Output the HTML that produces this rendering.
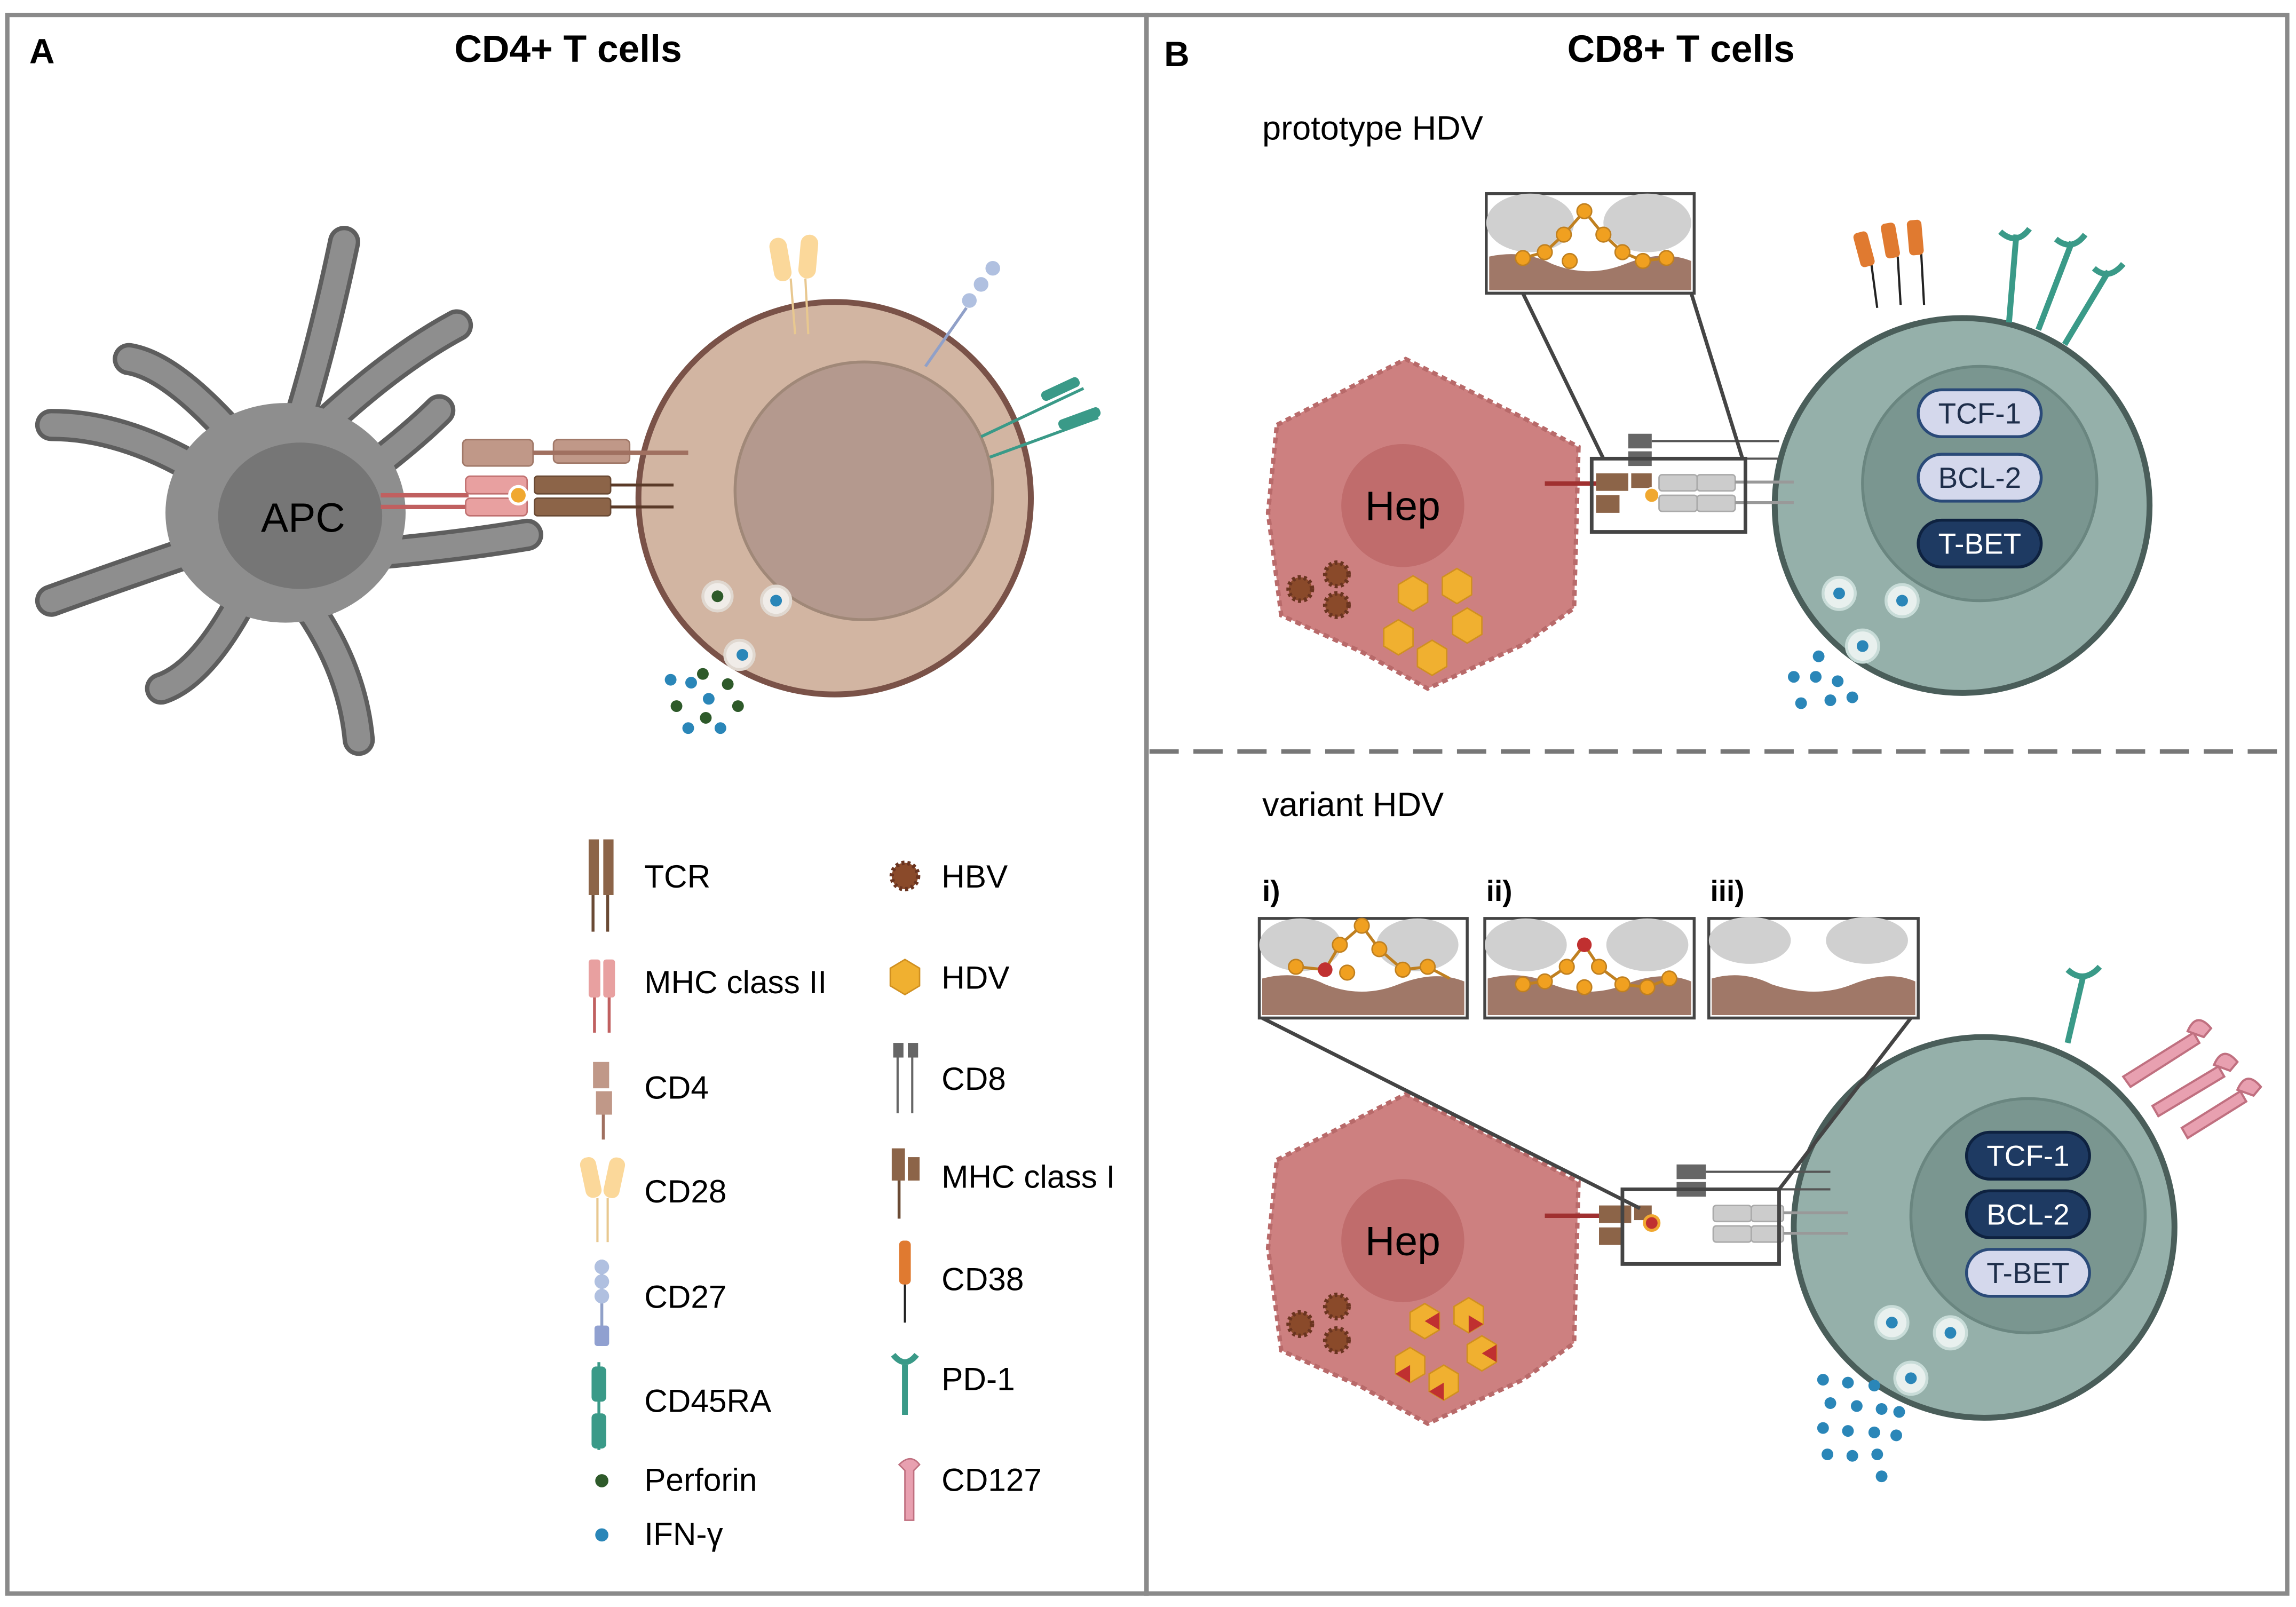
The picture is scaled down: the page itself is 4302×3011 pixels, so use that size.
<!DOCTYPE html>
<html><head><meta charset="utf-8"><style>
html,body{margin:0;padding:0;background:#fff}
svg{display:block}
text{font-family:"Liberation Sans",sans-serif}
</style></head><body>
<svg width="4302" height="3011" viewBox="0 0 1568 1097" xmlns="http://www.w3.org/2000/svg">
<rect width="1568" height="1097" fill="#fff"/>
<!-- panels -->
<rect x="5" y="10" width="778" height="1078" fill="none" stroke="#8a8a8a" stroke-width="3"/>
<rect x="783" y="10" width="779" height="1078" fill="none" stroke="#8a8a8a" stroke-width="3"/>
<line x1="785" y1="513" x2="1560" y2="513" stroke="#777" stroke-width="3" stroke-dasharray="20,10"/>
<text x="20" y="43" font-size="24" font-weight="bold">A</text>
<text x="388" y="42" font-size="26" font-weight="bold" text-anchor="middle">CD4+ T cells</text>
<text x="795" y="45" font-size="24" font-weight="bold">B</text>
<text x="1148" y="42" font-size="26" font-weight="bold" text-anchor="middle">CD8+ T cells</text>
<text x="862" y="95" font-size="23">prototype HDV</text>
<text x="862" y="557" font-size="23">variant HDV</text>

<!-- APC -->
<g stroke-linecap="round" fill="none">
<g stroke="#5e5e5e" stroke-width="22">
<path d="M190 330 Q215 260 235 165"/><path d="M200 310 Q260 250 312 222"/><path d="M170 310 Q120 250 88 245"/>
<path d="M150 330 Q90 290 35 290"/><path d="M150 370 Q90 390 35 410"/><path d="M170 400 Q140 460 110 470"/>
<path d="M200 400 Q240 450 245 505"/><path d="M230 380 Q300 375 360 365"/><path d="M240 330 Q280 300 300 280"/>
</g>
<g stroke="#8e8e8e" stroke-width="16">
<path d="M190 330 Q215 260 235 165"/><path d="M200 310 Q260 250 312 222"/><path d="M170 310 Q120 250 88 245"/>
<path d="M150 330 Q90 290 35 290"/><path d="M150 370 Q90 390 35 410"/><path d="M170 400 Q140 460 110 470"/>
<path d="M200 400 Q240 450 245 505"/><path d="M230 380 Q300 375 360 365"/><path d="M240 330 Q280 300 300 280"/>
</g>
</g>
<ellipse cx="195" cy="350" rx="82" ry="75" fill="#8e8e8e"/>
<ellipse cx="205" cy="352" rx="56" ry="50" fill="#767676"/>
<text x="207" y="363" font-size="28" text-anchor="middle">APC</text>

<!-- T cell A -->
<circle cx="570" cy="340" r="134" fill="#d2b5a2" stroke="#7a5248" stroke-width="4"/>
<circle cx="590" cy="335" r="88" fill="#b4998e" stroke="#a08878" stroke-width="2"/>
<line x1="260" y1="338" x2="320" y2="338" stroke="#c06060" stroke-width="3"/>
<line x1="260" y1="346" x2="320" y2="346" stroke="#c06060" stroke-width="3"/>
<rect x="316" y="300" width="48" height="18" rx="3" fill="#c09888" stroke="#a07868"/>
<rect x="378" y="300" width="52" height="16" rx="3" fill="#c09888" stroke="#a07868"/>
<line x1="364" y1="309" x2="470" y2="309" stroke="#a07060" stroke-width="3"/>
<rect x="318" y="325" width="42" height="12" rx="3" fill="#e8a0a0" stroke="#c07070"/>
<rect x="318" y="340" width="42" height="12" rx="3" fill="#e8a0a0" stroke="#c07070"/>
<circle cx="354" cy="338" r="6" fill="#f0a830" stroke="#fff" stroke-width="2"/>
<rect x="365" y="325" width="52" height="12" rx="2" fill="#8c6448" stroke="#6a4a34"/>
<rect x="365" y="340" width="52" height="12" rx="2" fill="#8c6448" stroke="#6a4a34"/>
<line x1="417" y1="331" x2="460" y2="331" stroke="#5a3a28" stroke-width="2"/>
<line x1="417" y1="346" x2="460" y2="346" stroke="#5a3a28" stroke-width="2"/>
<rect x="527" y="162" width="12" height="30" rx="6" fill="#fbd89a" transform="rotate(-10 533 177)"/>
<rect x="546" y="160" width="12" height="30" rx="6" fill="#fbd89a" transform="rotate(5 552 175)"/>
<line x1="540" y1="190" x2="543" y2="228" stroke="#e8c890" stroke-width="1.5"/>
<line x1="550" y1="190" x2="552" y2="228" stroke="#e8c890" stroke-width="1.5"/>
<line x1="660" y1="210" x2="632" y2="250" stroke="#90a0c8" stroke-width="2"/>
<circle cx="662" cy="205" r="5" fill="#b0c0e0"/><circle cx="670" cy="194" r="5" fill="#b0c0e0"/><circle cx="678" cy="183" r="5" fill="#b0c0e0"/>
<line x1="670" y1="298" x2="740" y2="265" stroke="#3a9a88" stroke-width="2"/>
<line x1="676" y1="312" x2="750" y2="285" stroke="#3a9a88" stroke-width="2"/>
<g fill="#3a9a88"><rect x="710" y="262" width="28" height="7" rx="3" transform="rotate(-25 724 265)"/><rect x="722" y="282" width="30" height="7" rx="3" transform="rotate(-20 737 285)"/></g>
<g fill="#f0ece8" stroke="#e0d8d0" stroke-width="2">
<circle cx="490" cy="407" r="10"/><circle cx="530" cy="410" r="10"/><circle cx="505" cy="447" r="10"/></g>
<circle cx="490" cy="407" r="4" fill="#2e5a2a"/><circle cx="530" cy="410" r="4" fill="#2a86b8"/><circle cx="507" cy="447" r="4" fill="#2a86b8"/>
<g fill="#2a86b8"><circle cx="458" cy="464" r="4"/><circle cx="472" cy="466" r="4"/><circle cx="484" cy="477" r="4"/><circle cx="470" cy="497" r="4"/><circle cx="492" cy="497" r="4"/></g>
<g fill="#2e5a2a"><circle cx="480" cy="460" r="4"/><circle cx="497" cy="467" r="4"/><circle cx="462" cy="482" r="4"/><circle cx="504" cy="482" r="4"/><circle cx="482" cy="490" r="4"/></g>

<!-- legend -->
<g font-size="22">
<text x="440" y="606">TCR</text><text x="440" y="678">MHC class II</text><text x="440" y="750">CD4</text>
<text x="440" y="821">CD28</text><text x="440" y="893">CD27</text><text x="440" y="964">CD45RA</text>
<text x="440" y="1018">Perforin</text><text x="440" y="1055">IFN-γ</text>
<text x="643" y="606">HBV</text><text x="643" y="675">HDV</text><text x="643" y="744">CD8</text>
<text x="643" y="811">MHC class I</text><text x="643" y="881">CD38</text><text x="643" y="949">PD-1</text><text x="643" y="1018">CD127</text>
</g>
<g>
<rect x="402" y="573" width="7" height="38" fill="#8c6448"/><rect x="412" y="573" width="7" height="38" fill="#8c6448"/>
<line x1="405" y1="611" x2="405" y2="636" stroke="#6a4a34" stroke-width="2"/><line x1="415" y1="611" x2="415" y2="636" stroke="#6a4a34" stroke-width="2"/>
<rect x="402" y="655" width="8" height="26" rx="2" fill="#e8a0a0"/><rect x="412" y="655" width="8" height="26" rx="2" fill="#e8a0a0"/>
<line x1="406" y1="681" x2="406" y2="705" stroke="#c06060" stroke-width="2"/><line x1="416" y1="681" x2="416" y2="705" stroke="#c06060" stroke-width="2"/>
<rect x="405" y="725" width="11" height="18" fill="#c09888"/><rect x="407" y="745" width="11" height="16" fill="#c09888"/>
<line x1="412" y1="761" x2="412" y2="778" stroke="#a07060" stroke-width="2"/>
<rect x="398" y="790" width="11" height="28" rx="5" fill="#fbd89a" transform="rotate(-12 403 804)"/><rect x="414" y="790" width="11" height="28" rx="5" fill="#fbd89a" transform="rotate(12 419 804)"/>
<line x1="408" y1="818" x2="408" y2="848" stroke="#e8c890" stroke-width="1.5"/><line x1="415" y1="818" x2="415" y2="848" stroke="#e8c890" stroke-width="1.5"/>
<line x1="411" y1="860" x2="411" y2="915" stroke="#90a0c8" stroke-width="2"/>
<circle cx="411" cy="865" r="5" fill="#b0c0e0"/><circle cx="411" cy="875" r="5" fill="#b0c0e0"/><circle cx="411" cy="885" r="5" fill="#b0c0e0"/><rect x="406" y="905" width="10" height="14" rx="2" fill="#90a0d0"/>
<line x1="409" y1="930" x2="409" y2="990" stroke="#3a9a88" stroke-width="2"/>
<rect x="404" y="933" width="10" height="24" rx="3" fill="#3a9a88"/><rect x="404" y="965" width="10" height="24" rx="3" fill="#3a9a88"/>
<circle cx="411" cy="1011" r="4.5" fill="#2e5a2a"/><circle cx="411" cy="1048" r="4.5" fill="#2a86b8"/>
<circle cx="618" cy="598" r="9" fill="#8a4a2a" stroke="#6a3420" stroke-width="3" stroke-dasharray="2,2"/>
<polygon points="618,655 628,661 628,673 618,679 608,673 608,661" fill="#f0b030" stroke="#d09020"/>
<rect x="610" y="712" width="7" height="10" fill="#666"/><rect x="620" y="712" width="7" height="10" fill="#666"/>
<line x1="613" y1="722" x2="613" y2="760" stroke="#666" stroke-width="1.5"/><line x1="623" y1="722" x2="623" y2="760" stroke="#666" stroke-width="1.5"/>
<rect x="609" y="784" width="9" height="22" fill="#8c6448"/><rect x="620" y="790" width="8" height="16" fill="#8c6448"/>
<line x1="614" y1="806" x2="614" y2="832" stroke="#6a4a34" stroke-width="2"/>
<rect x="614" y="847" width="8" height="30" rx="3" fill="#e07a30"/><line x1="618" y1="877" x2="618" y2="903" stroke="#222" stroke-width="1.5"/>
<path d="M610 925 Q618 935 626 925" stroke="#3a9a88" stroke-width="4" fill="none"/><line x1="618" y1="932" x2="618" y2="966" stroke="#3a9a88" stroke-width="4"/>
<path d="M614 1000 Q622 992 628 1000 L624 1004 L624 1038 L618 1038 L618 1004 Z" fill="#e8a0b0" stroke="#c07080"/>
</g>

<!-- ============ B top ============ -->
<path d="M872 290 L960 245 L1040 285 L1078 305 L1075 415 L1040 440 L975 470 L930 445 L875 420 L866 350 Z" fill="#cd8080" stroke="#b86a6a" stroke-width="3" stroke-dasharray="4,3"/>
<circle cx="958" cy="345" r="42" fill="#c06c6c"/>
<text x="958" y="355" font-size="28" text-anchor="middle">Hep</text>
<g fill="#8a4a2a" stroke="#6a3420" stroke-width="3" stroke-dasharray="2,2">
<circle cx="888" cy="402" r="8"/><circle cx="913" cy="392" r="8"/><circle cx="913" cy="413" r="8"/></g>
<g fill="#f0b030" stroke="#d09020">
<polygon points="965,393 975,399 975,411 965,417 955,411 955,399"/><polygon points="995,388 1005,394 1005,406 995,412 985,406 985,394"/>
<polygon points="955,423 965,429 965,441 955,447 945,441 945,429"/><polygon points="1002,415 1012,421 1012,433 1002,439 992,433 992,421"/>
<polygon points="978,437 988,443 988,455 978,461 968,455 968,443"/></g>
<circle cx="1340" cy="345" r="128" fill="#95b0aa" stroke="#4a5e5a" stroke-width="4"/>
<circle cx="1352" cy="330" r="80" fill="#7a9690" stroke="#6a8680" stroke-width="2"/>
<g stroke="#222" stroke-width="1.5"><line x1="1282" y1="210" x2="1278" y2="180"/><line x1="1298" y1="208" x2="1296" y2="175"/><line x1="1314" y1="208" x2="1312" y2="172"/></g>
<g fill="#e07a30"><rect x="1268" y="158" width="10" height="24" rx="3" transform="rotate(-15 1273 170)"/><rect x="1286" y="152" width="10" height="24" rx="3" transform="rotate(-10 1291 164)"/><rect x="1303" y="150" width="10" height="24" rx="3" transform="rotate(-5 1308 162)"/></g>
<g stroke="#3a9a88" stroke-width="4" fill="none">
<line x1="1372" y1="220" x2="1377" y2="160"/><line x1="1392" y1="225" x2="1415" y2="165"/><line x1="1410" y1="235" x2="1440" y2="185"/>
<path d="M1366 158 Q1377 168 1386 156"/><path d="M1404 163 Q1415 172 1424 160"/><path d="M1430 183 Q1440 192 1450 180"/></g>
<rect x="1310" y="266" width="84" height="32" rx="16" fill="#d4d8ec" stroke="#2a4a78" stroke-width="2"/>
<rect x="1310" y="310" width="84" height="32" rx="16" fill="#d4d8ec" stroke="#2a4a78" stroke-width="2"/>
<rect x="1310" y="355" width="84" height="32" rx="16" fill="#1e3a62" stroke="#0e2240" stroke-width="2"/>
<g font-size="20" text-anchor="middle"><text x="1352" y="289" fill="#1e2e4a">TCF-1</text><text x="1352" y="333" fill="#1e2e4a">BCL-2</text><text x="1352" y="378" fill="#fff">T-BET</text></g>
<line x1="1055" y1="330" x2="1090" y2="330" stroke="#a03030" stroke-width="3"/>
<rect x="1090" y="323" width="22" height="12" fill="#8c6448"/><rect x="1090" y="338" width="16" height="12" fill="#8c6448"/><rect x="1114" y="323" width="14" height="10" fill="#8c6448"/>
<circle cx="1128" cy="338" r="5" fill="#f0a830" stroke="#fff"/>
<rect x="1133" y="324" width="26" height="11" rx="2" fill="#ccc" stroke="#aaa"/><rect x="1159" y="324" width="26" height="11" rx="2" fill="#ccc" stroke="#aaa"/>
<rect x="1133" y="338" width="26" height="11" rx="2" fill="#ccc" stroke="#aaa"/><rect x="1159" y="338" width="26" height="11" rx="2" fill="#ccc" stroke="#aaa"/>
<line x1="1185" y1="329" x2="1225" y2="329" stroke="#999" stroke-width="2"/><line x1="1185" y1="343" x2="1225" y2="343" stroke="#999" stroke-width="2"/>
<rect x="1112" y="296" width="16" height="10" fill="#666"/><rect x="1112" y="308" width="16" height="10" fill="#666"/>
<line x1="1128" y1="301" x2="1215" y2="301" stroke="#555" stroke-width="1.5"/><line x1="1128" y1="313" x2="1215" y2="313" stroke="#555" stroke-width="1.5"/>
<rect x="1087" y="313" width="105" height="50" fill="none" stroke="#444" stroke-width="2.5"/>
<line x1="1040" y1="200" x2="1095" y2="313" stroke="#444" stroke-width="2.5"/><line x1="1155" y1="200" x2="1190" y2="313" stroke="#444" stroke-width="2.5"/>
<rect x="1015" y="132" width="142" height="68" fill="#fff" stroke="#444" stroke-width="2"/>
<ellipse cx="1045" cy="152" rx="30" ry="20" fill="#d0d0d0"/><ellipse cx="1125" cy="152" rx="30" ry="20" fill="#d0d0d0"/>
<path d="M1017 198 L1017 175 Q1040 170 1060 180 Q1085 190 1110 180 Q1135 170 1155 178 L1155 198 Z" fill="#a07868"/>
<polyline points="1040,176 1055,172 1068,160 1082,144 1095,160 1108,172 1122,178 1138,176" fill="none" stroke="#c08020" stroke-width="2"/>
<g fill="#f0a020" stroke="#c08020"><circle cx="1040" cy="176" r="5"/><circle cx="1055" cy="172" r="5"/><circle cx="1068" cy="160" r="5"/><circle cx="1082" cy="144" r="5"/><circle cx="1095" cy="160" r="5"/><circle cx="1108" cy="172" r="5"/><circle cx="1122" cy="178" r="5"/><circle cx="1138" cy="176" r="5"/><circle cx="1072" cy="178" r="5"/></g>
<g fill="#e8f0ee" stroke="#c8dcd8" stroke-width="2"><circle cx="1256" cy="405" r="11"/><circle cx="1299" cy="410" r="11"/><circle cx="1272" cy="441" r="11"/></g>
<g fill="#2a86b8"><circle cx="1256" cy="405" r="4"/><circle cx="1299" cy="410" r="4"/><circle cx="1272" cy="441" r="4"/>
<circle cx="1225" cy="462" r="4"/><circle cx="1240" cy="462" r="4"/><circle cx="1255" cy="465" r="4"/><circle cx="1230" cy="480" r="4"/><circle cx="1250" cy="478" r="4"/><circle cx="1265" cy="476" r="4"/><circle cx="1242" cy="448" r="4"/></g>

<!-- ============ B bottom ============ -->
<path d="M872 792 L960 747 L1040 787 L1078 807 L1075 917 L1040 942 L975 972 L930 947 L875 922 L866 852 Z" fill="#cd8080" stroke="#b86a6a" stroke-width="3" stroke-dasharray="4,3"/>
<circle cx="958" cy="847" r="42" fill="#c06c6c"/>
<text x="958" y="857" font-size="28" text-anchor="middle">Hep</text>
<g fill="#8a4a2a" stroke="#6a3420" stroke-width="3" stroke-dasharray="2,2">
<circle cx="888" cy="904" r="8"/><circle cx="913" cy="892" r="8"/><circle cx="913" cy="915" r="8"/></g>
<g fill="#f0b030" stroke="#d09020">
<polygon points="973,890 983,896 983,908 973,914 963,908 963,896"/><polygon points="1003,886 1013,892 1013,904 1003,910 993,904 993,892"/>
<polygon points="963,920 973,926 973,938 963,944 953,938 953,926"/><polygon points="1012,912 1022,918 1022,930 1012,936 1002,930 1002,918"/>
<polygon points="986,932 996,938 996,950 986,956 976,950 976,938"/></g>
<g fill="#c03030"><path d="M973 902 L983 896 L983 908Z"/><path d="M1003 898 L1013 904 L1003 910Z"/><path d="M963 932 L953 938 L963 944Z"/><path d="M1012 924 L1022 918 L1022 930Z"/><path d="M986 944 L976 950 L986 956Z"/></g>
<circle cx="1355" cy="838" r="130" fill="#95b0aa" stroke="#4a5e5a" stroke-width="4"/>
<circle cx="1385" cy="830" r="80" fill="#7a9690" stroke="#6a8680" stroke-width="2"/>
<g stroke="#3a9a88" stroke-width="4" fill="none"><line x1="1412" y1="712" x2="1423" y2="665"/><path d="M1412 662 Q1423 672 1434 660"/></g>
<g stroke="#c07080" stroke-width="1.5" fill="#e8a0b0">
<path d="M1450 735 L1498 705 L1502 712 L1455 742 Z"/><path d="M1470 755 L1515 728 L1519 735 L1474 762 Z"/><path d="M1490 770 L1530 745 L1534 752 L1494 777 Z"/>
<path d="M1494 704 Q1500 690 1510 702 L1505 708 Z"/><path d="M1512 727 Q1518 713 1528 725 L1523 731 Z"/><path d="M1528 744 Q1534 730 1544 742 L1539 748 Z"/></g>
<rect x="1343" y="773" width="84" height="32" rx="16" fill="#1e3a62" stroke="#0e2240" stroke-width="2"/>
<rect x="1343" y="813" width="84" height="32" rx="16" fill="#1e3a62" stroke="#0e2240" stroke-width="2"/>
<rect x="1343" y="853" width="84" height="32" rx="16" fill="#d4d8ec" stroke="#2a4a78" stroke-width="2"/>
<g font-size="20" text-anchor="middle"><text x="1385" y="796" fill="#fff">TCF-1</text><text x="1385" y="836" fill="#fff">BCL-2</text><text x="1385" y="876" fill="#1e2e4a">T-BET</text></g>
<line x1="1055" y1="830" x2="1092" y2="830" stroke="#a03030" stroke-width="3"/>
<rect x="1092" y="823" width="22" height="12" fill="#8c6448"/><rect x="1092" y="838" width="16" height="12" fill="#8c6448"/><rect x="1116" y="823" width="12" height="10" fill="#8c6448"/>
<circle cx="1128" cy="835" r="5" fill="#c03030" stroke="#f0a830" stroke-width="2"/>
<rect x="1170" y="823" width="26" height="11" rx="2" fill="#ccc" stroke="#aaa"/><rect x="1196" y="823" width="22" height="11" rx="2" fill="#ccc" stroke="#aaa"/>
<rect x="1170" y="837" width="26" height="11" rx="2" fill="#ccc" stroke="#aaa"/><rect x="1196" y="837" width="22" height="11" rx="2" fill="#ccc" stroke="#aaa"/>
<line x1="1218" y1="828" x2="1262" y2="828" stroke="#999" stroke-width="2"/><line x1="1218" y1="842" x2="1262" y2="842" stroke="#999" stroke-width="2"/>
<rect x="1145" y="795" width="20" height="10" fill="#666"/><rect x="1145" y="807" width="20" height="10" fill="#666"/>
<line x1="1165" y1="800" x2="1250" y2="800" stroke="#555" stroke-width="1.5"/><line x1="1165" y1="812" x2="1250" y2="812" stroke="#555" stroke-width="1.5"/>
<rect x="1108" y="812" width="107" height="51" fill="none" stroke="#444" stroke-width="2.5"/>
<line x1="862" y1="695" x2="1120" y2="825" stroke="#444" stroke-width="2.5"/><line x1="1305" y1="695" x2="1215" y2="812" stroke="#444" stroke-width="2.5"/>
<g font-size="20" font-weight="bold"><text x="862" y="615">i)</text><text x="1015" y="615">ii)</text><text x="1168" y="615">iii)</text></g>
<g>
<rect x="860" y="627" width="142" height="68" fill="#fff" stroke="#444" stroke-width="2"/>
<ellipse cx="888" cy="645" rx="28" ry="18" fill="#d0d0d0"/><ellipse cx="968" cy="645" rx="28" ry="18" fill="#d0d0d0"/>
<path d="M862 693 L862 668 Q885 662 905 672 Q930 682 955 672 Q980 662 1000 670 L1000 693 Z" fill="#a07868"/>
<polyline points="885,660 905,662 915,645 930,632 942,648 958,662 975,660 990,668" fill="none" stroke="#c08020" stroke-width="2"/>
<g fill="#f0a020" stroke="#c08020"><circle cx="885" cy="660" r="5"/><circle cx="915" cy="645" r="5"/><circle cx="930" cy="632" r="5"/><circle cx="942" cy="648" r="5"/><circle cx="958" cy="662" r="5"/><circle cx="975" cy="660" r="5"/><circle cx="920" cy="664" r="5"/></g>
<circle cx="905" cy="662" r="5" fill="#c03030"/>
<rect x="1014" y="627" width="143" height="68" fill="#fff" stroke="#444" stroke-width="2"/>
<ellipse cx="1042" cy="645" rx="28" ry="18" fill="#d0d0d0"/><ellipse cx="1125" cy="645" rx="28" ry="18" fill="#d0d0d0"/>
<path d="M1016 693 L1016 668 Q1040 662 1060 672 Q1085 682 1110 672 Q1135 662 1155 670 L1155 693 Z" fill="#a07868"/>
<polyline points="1040,672 1055,670 1070,660 1082,645 1092,660 1108,672 1125,674 1140,668" fill="none" stroke="#c08020" stroke-width="2"/>
<g fill="#f0a020" stroke="#c08020"><circle cx="1040" cy="672" r="5"/><circle cx="1055" cy="670" r="5"/><circle cx="1070" cy="660" r="5"/><circle cx="1092" cy="660" r="5"/><circle cx="1108" cy="672" r="5"/><circle cx="1125" cy="674" r="5"/><circle cx="1140" cy="668" r="5"/><circle cx="1082" cy="674" r="5"/></g>
<circle cx="1082" cy="645" r="5" fill="#c03030"/>
<rect x="1167" y="627" width="143" height="68" fill="#fff" stroke="#444" stroke-width="2"/>
<ellipse cx="1195" cy="642" rx="28" ry="16" fill="#d0d0d0"/><ellipse cx="1275" cy="642" rx="28" ry="16" fill="#d0d0d0"/>
<path d="M1169 693 L1169 668 Q1190 662 1210 672 Q1240 682 1265 672 Q1290 662 1308 670 L1308 693 Z" fill="#a07868"/>
</g>
<g fill="#e8f0ee" stroke="#c8dcd8" stroke-width="2"><circle cx="1292" cy="903" r="11"/><circle cx="1332" cy="910" r="11"/><circle cx="1305" cy="941" r="11"/></g>
<g fill="#2a86b8"><circle cx="1292" cy="903" r="4"/><circle cx="1332" cy="910" r="4"/><circle cx="1305" cy="941" r="4"/>
<circle cx="1245" cy="942" r="4"/><circle cx="1262" cy="944" r="4"/><circle cx="1280" cy="946" r="4"/><circle cx="1250" cy="958" r="4"/><circle cx="1268" cy="960" r="4"/><circle cx="1285" cy="962" r="4"/><circle cx="1297" cy="964" r="4"/>
<circle cx="1245" cy="975" r="4"/><circle cx="1262" cy="977" r="4"/><circle cx="1280" cy="978" r="4"/><circle cx="1295" cy="980" r="4"/>
<circle cx="1248" cy="993" r="4"/><circle cx="1265" cy="994" r="4"/><circle cx="1282" cy="993" r="4"/><circle cx="1285" cy="1008" r="4"/></g>
</svg>
</body></html>
